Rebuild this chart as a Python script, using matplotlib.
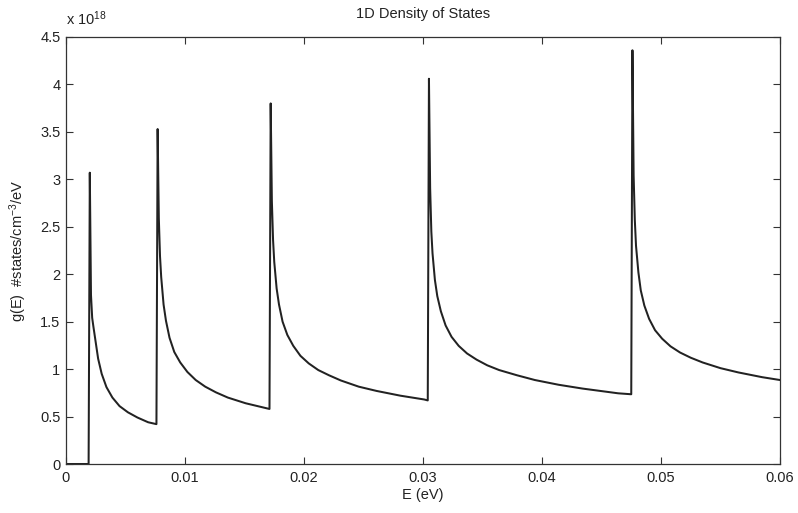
import matplotlib
matplotlib.use("Agg")
import matplotlib.pyplot as plt

plt.rcParams['font.family'] = ['Liberation Sans', 'DejaVu Sans']
plt.rcParams['mathtext.fontset'] = 'custom'
plt.rcParams['mathtext.rm'] = 'Liberation Sans'
plt.rcParams['mathtext.it'] = 'Liberation Sans:italic'

# energy (eV) and density of states (units of 1e18 states/cm^-3/eV)
energy = [
    0.0, 0.0019,
    0.0020, 0.0021, 0.0022, 0.0023, 0.0025, 0.0027, 0.0030, 0.0034, 0.0039,
    0.0045, 0.0052, 0.0060, 0.0069, 0.0076,
    0.0077, 0.0078, 0.0079, 0.0080, 0.0082, 0.0084, 0.0087, 0.0091, 0.0096,
    0.0102, 0.0109, 0.0117, 0.0126, 0.0136, 0.0151, 0.0166, 0.0171,
    0.0172, 0.0173, 0.0174, 0.0175, 0.0177, 0.0179, 0.0182, 0.0186, 0.0191,
    0.0197, 0.0204, 0.0212, 0.0221, 0.0231, 0.0246, 0.0261, 0.0281, 0.0301, 0.0304,
    0.0305, 0.0306, 0.0307, 0.0308, 0.0310, 0.0312, 0.0315, 0.0319, 0.0324,
    0.0330, 0.0337, 0.0345, 0.0354, 0.0364, 0.0379, 0.0394, 0.0414, 0.0434,
    0.0464, 0.0475,
    0.0476, 0.0477, 0.0478, 0.0479, 0.0481, 0.0483, 0.0486, 0.0490, 0.0495,
    0.0501, 0.0508, 0.0516, 0.0525, 0.0535, 0.0550, 0.0565, 0.0585, 0.0600,
]
dos = [
    0.0, 0.0,
    3.07, 1.78, 1.54, 1.45, 1.28, 1.11, 0.95, 0.81, 0.70,
    0.61, 0.545, 0.49, 0.44, 0.42,
    3.53, 2.59, 2.19, 1.97, 1.68, 1.51, 1.33, 1.18, 1.07,
    0.97, 0.885, 0.815, 0.755, 0.70, 0.64, 0.595, 0.58,
    3.80, 2.77, 2.36, 2.13, 1.85, 1.68, 1.50, 1.36, 1.245,
    1.14, 1.06, 0.99, 0.935, 0.88, 0.815, 0.77, 0.72, 0.68, 0.67,
    4.06, 2.91, 2.45, 2.22, 1.94, 1.77, 1.61, 1.46, 1.34,
    1.245, 1.165, 1.10, 1.04, 0.99, 0.935, 0.885, 0.835, 0.795,
    0.745, 0.735,
    4.36, 3.04, 2.57, 2.30, 2.02, 1.83, 1.67, 1.53, 1.41,
    1.32, 1.24, 1.175, 1.12, 1.07, 1.01, 0.965, 0.915, 0.885,
]

x_ticks = [0, 0.01, 0.02, 0.03, 0.04, 0.05, 0.06]
x_tick_labels = ['0', '0.01', '0.02', '0.03', '0.04', '0.05', '0.06']
y_ticks = [0, 0.5, 1, 1.5, 2, 2.5, 3, 3.5, 4, 4.5]
y_tick_labels = ['0', '0.5', '1', '1.5', '2', '2.5', '3', '3.5', '4', '4.5']

fig = plt.figure(figsize=(7.98, 5.13), dpi=100)
ax = fig.add_axes([66 / 798, 49 / 513, 714 / 798, 427 / 513])

ax.plot(energy, dos, color='#222222', linewidth=1.45)

ax.set_xlim(0, 0.06)
ax.set_ylim(0, 4.5)
ax.set_xticks(x_ticks)
ax.set_xticklabels(x_tick_labels)
ax.set_yticks(y_ticks)
ax.set_yticklabels(y_tick_labels)
ax.tick_params(direction='in', top=True, right=True, length=5, width=0.8,
               color='#333333', labelsize=10.5, labelcolor='#222222')
ax.tick_params(axis='x', pad=5)
ax.tick_params(axis='y', pad=4)
for s in ax.spines.values():
    s.set_color('#333333')
    s.set_linewidth(0.9)

ax.text(0, 1.02, r'x 10$^{18}$', transform=ax.transAxes, ha='left', va='bottom',
        fontsize=10.5, color='#222222')
ax.set_title('1D Density of States', fontsize=10.5, color='#222222', pad=14)
ax.set_xlabel('E (eV)', fontsize=10.5, color='#222222', labelpad=2)
ax.set_ylabel(r'g(E)  #states/cm$^{-3}$/eV', fontsize=10.5, color='#222222', labelpad=8)

fig.savefig('out.png', dpi=100)
